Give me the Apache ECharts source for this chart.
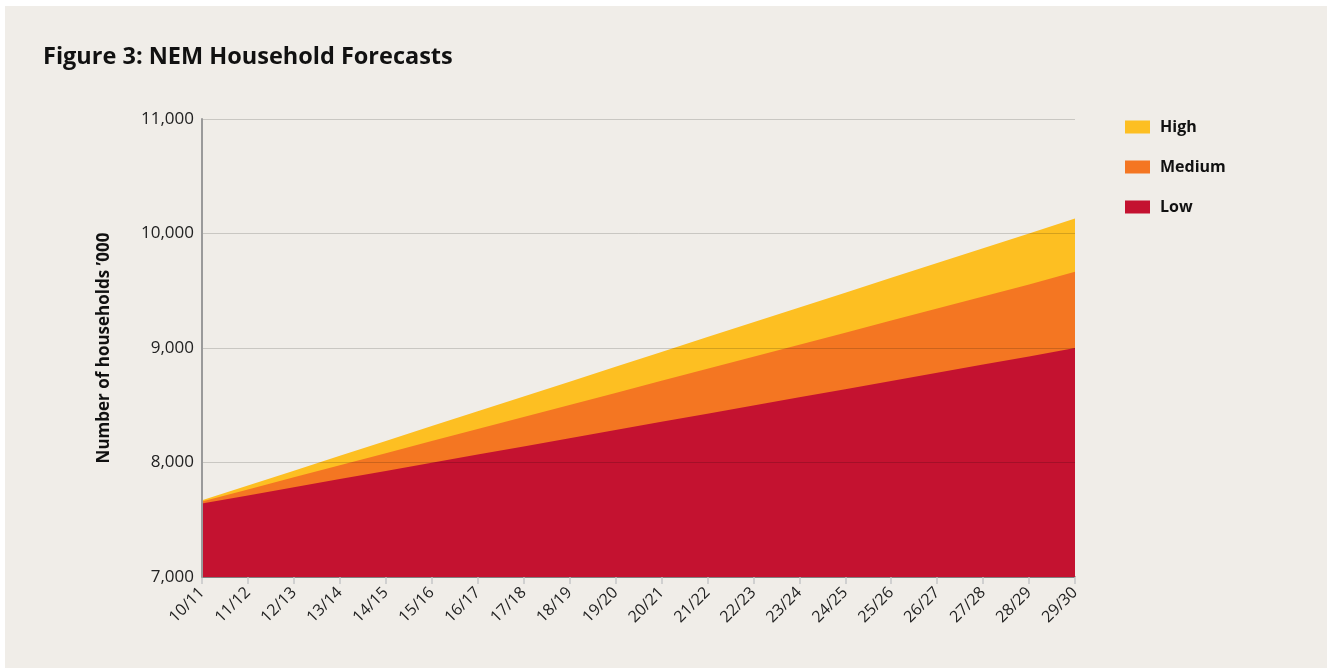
<!DOCTYPE html>
<html>
<head>
<meta charset="utf-8">
<script src="https://cdn.jsdelivr.net/npm/echarts@6/dist/echarts.min.js"></script>
<style>
html,body{margin:0;padding:0;background:#ffffff;}
#frame{position:absolute;left:5px;top:6px;width:1322px;height:662px;background:#f0ede8;}
#chart{position:absolute;left:0;top:0;width:1327px;height:668px;}
</style>
</head>
<body>
<div id="frame"></div>
<div id="chart"></div>
<script>
const categories = ['10/11','11/12','12/13','13/14','14/15','15/16','16/17','17/18','18/19','19/20','20/21','21/22','22/23','23/24','24/25','25/26','26/27','27/28','28/29','29/30'];
const high   = [7670, 7800, 7929, 8059, 8188, 8318, 8447, 8577, 8706, 8836, 8965, 9095, 9224, 9354, 9483, 9613, 9742, 9872, 10001, 10131];
const medium = [7660, 7765, 7871, 7976, 8081, 8187, 8292, 8397, 8502, 8608, 8713, 8818, 8924, 9029, 9134, 9240, 9345, 9450, 9555, 9665];
const low    = [7642, 7712, 7783, 7855, 7926, 7998, 8069, 8140, 8212, 8283, 8355, 8426, 8498, 8569, 8640, 8712, 8783, 8855, 8926, 9000];
const yTicks = [7000, 8000, 9000, 10000, 11000];

const colors = {High:'#fdbf22', Medium:'#f47622', Low:'#c41230'};
const font = '"Open Sans", "Noto Sans", sans-serif';

const chart = echarts.init(document.getElementById('chart'), null, {renderer:'canvas'});
function areaSeries(name, data){
  return {
    name, type:'line', data, symbol:'none', smooth:false,
    lineStyle:{width:0}, itemStyle:{color:colors[name]},
    areaStyle:{color:colors[name], opacity:1, origin:'start'},
    z:2
  };
}
chart.setOption({
  backgroundColor:'transparent',
  animation:false,
  title:{
    text:'Figure 3: NEM Household Forecasts',
    left:38, top:40,
    textStyle:{fontFamily:font, fontWeight:'bold', fontSize:23.5, color:'#111'}
  },
  legend:{
    orient:'vertical', left:1120, top:114,
    itemWidth:25, itemHeight:13, itemGap:24,
    icon:'rect',
    data:['High','Medium','Low'],
    textStyle:{fontFamily:font, fontWeight:'bold', fontSize:16, color:'#111', padding:[0,0,0,5]}
  },
  grid:{left:202, right:252, top:119, bottom:91},
  xAxis:{
    type:'category', data:categories, boundaryGap:false,
    axisLine:{lineStyle:{color:'#9a9a9a', width:2}},
    axisTick:{show:true, length:7, lineStyle:{color:'#d0d0d0', width:2}},
    axisLabel:{rotate:45, margin:13, fontFamily:font, fontSize:16, color:'#222', interval:0},
    splitLine:{show:false}
  },
  yAxis:{
    type:'value', min:7000, max:11000, interval:1000, z:5,
    name:"Number of households \u2019000",
    nameLocation:'middle', nameGap:89, nameRotate:90,
    nameTextStyle:{fontFamily:font, fontWeight:'bold', fontSize:17, color:'#111'},
    axisLine:{show:true, lineStyle:{color:'#9a9a9a', width:2}},
    axisTick:{show:false},
    axisLabel:{margin:8, fontFamily:font, fontSize:17, color:'#222',
      formatter:v => yTicks.includes(v) ? v.toLocaleString('en-US') : ''},
    splitLine:{show:true, lineStyle:{color:'rgba(0,0,0,0.16)', width:1}}
  },
  series:[
    areaSeries('High', high),
    areaSeries('Medium', medium),
    areaSeries('Low', low)
  ]
});
</script>
</body>
</html>
